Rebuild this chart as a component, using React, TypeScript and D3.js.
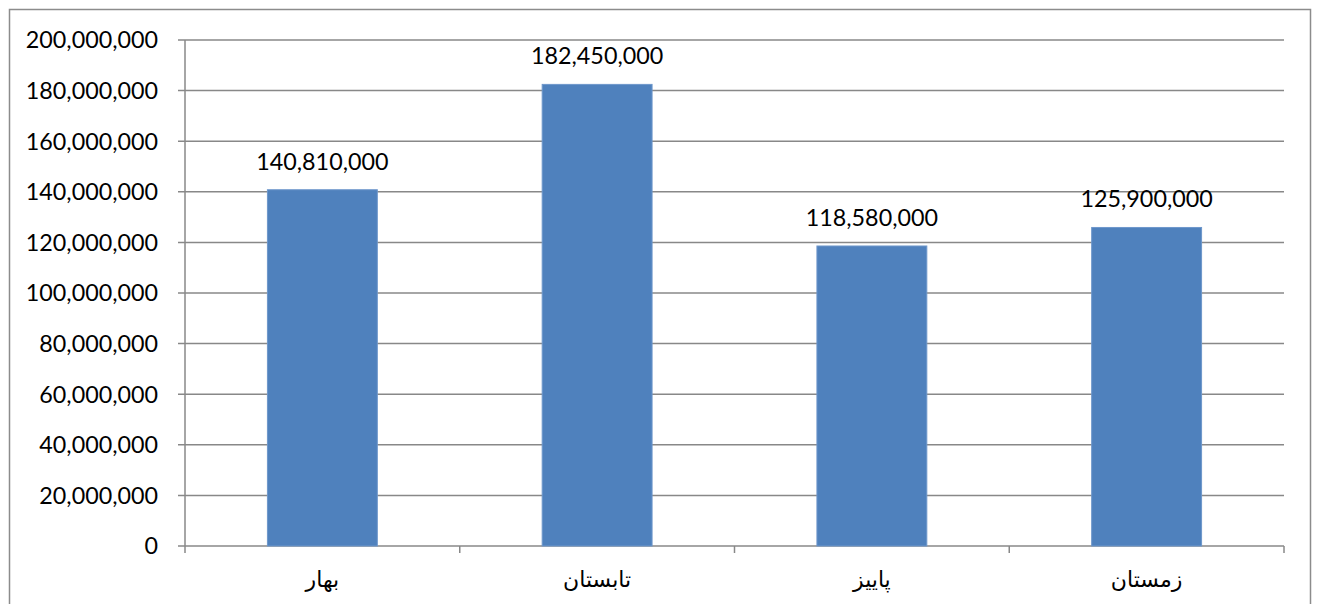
import React from "react";
import * as d3 from "d3";

const categories = ["بهار", "تابستان", "پاییز", "زمستان"];
const values = [140810000, 182450000, 118580000, 125900000];
const yTicks = [0, 20000000, 40000000, 60000000, 80000000, 100000000, 120000000, 140000000, 160000000, 180000000, 200000000];

const W = 1317;
const H = 604;
const left = 185;
const right = 1284;
const top = 40;
const bottom = 546;

export default function App() {
  const x = d3.scaleBand<string>().domain(categories).range([left, right]).paddingInner(0.6).paddingOuter(0.3);
  const xOuter = d3.scaleBand<string>().domain(categories).range([left, right]);
  const y = d3.scaleLinear().domain([0, 200000000]).range([bottom, top]);
  const fmt = d3.format(",");
  const numFont = "Lato, 'Open Sans', sans-serif";
  const grid = "#888888";

  const boundaries = [left, ...categories.map((c) => (xOuter(c) as number) + xOuter.bandwidth())];

  return (
    <div style={{ position: "absolute", left: 0, top: 0 }}>
      <svg width={W} height={H} style={{ display: "block", background: "#fff" }}>
        <rect x={9.5} y={9.5} width={1301} height={610} fill="#fff" stroke="#8c8c8c" strokeWidth={1.5} />
        {yTicks.map((t) => (
          <g key={t}>
            <line x1={left - 7} x2={right} y1={y(t)} y2={y(t)} stroke={grid} strokeWidth={1.5} />
            <text x={left - 27} y={y(t)} dy="0.36em" textAnchor="end" fontFamily={numFont} fontSize={23.3} fill="#000">
              {fmt(t)}
            </text>
          </g>
        ))}
        <line x1={left} x2={left} y1={top} y2={bottom} stroke={grid} strokeWidth={1.5} />
        {boundaries.map((b, i) => (
          <line key={i} x1={b} x2={b} y1={bottom} y2={bottom + 7} stroke={grid} strokeWidth={1.5} />
        ))}
        {categories.map((c, i) => (
          <g key={c}>
            <rect
              x={x(c) as number}
              y={y(values[i])}
              width={x.bandwidth()}
              height={bottom - y(values[i])}
              fill="#4F81BD"
              stroke="#6E97CB"
              strokeWidth={1}
            />
            <text
              x={(x(c) as number) + x.bandwidth() / 2}
              y={y(values[i]) - 20}
              textAnchor="middle"
              fontFamily={numFont}
              fontSize={23.3}
              fill="#000"
            >
              {fmt(values[i])}
            </text>
            <text
              x={(x(c) as number) + x.bandwidth() / 2}
              y={587}
              textAnchor="middle"
              fontFamily="'DejaVu Sans', 'Noto Sans', sans-serif"
              fontSize={22}
              fill="#000"
            >
              {c}
            </text>
          </g>
        ))}
      </svg>
    </div>
  );
}
